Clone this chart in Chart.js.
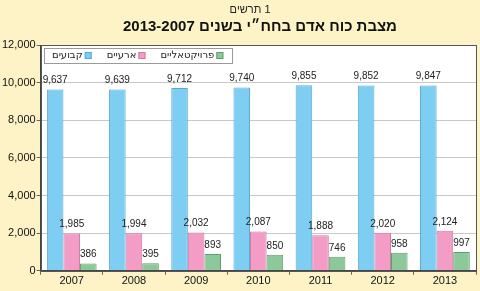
<!DOCTYPE html>
<html lang="he">
<head>
<meta charset="utf-8">
<script src="https://cdn.jsdelivr.net/npm/chart.js@4.4.1/dist/chart.umd.min.js"></script>
<style>
  html, body { margin: 0; padding: 0; background: #fdf3c7; }
  #wrap { width: 480px; height: 291px; }
</style>
</head>
<body>
<div id="wrap"><canvas id="chart"></canvas></div>
<script>
// נתונים
const years = ['2007', '2008', '2009', '2010', '2011', '2012', '2013'];
const kvuim = [9637, 9639, 9712, 9740, 9855, 9852, 9847];
const arayim = [1985, 1994, 2032, 2087, 1888, 2020, 2124];
const proyektaliyim = [386, 395, 893, 850, 746, 958, 997];
const seriesNames = ['קבועים', 'ארעיים', 'פרויקטאליים'];
const titleText = 'תרשים 1';
const subtitleText = 'מצבת כוח אדם בחח״י בשנים 2013-2007';
const yMax = 12000;
const yStep = 2000;

const colors = ['#7ecdf2', '#f39cc6', '#8dc89b'];
const borders = ['#5aa9d3', '#cf79a3', '#5f9f6e'];

// Hebrew is drawn letter by letter so the canvas bidi does not matter.
// rtl = true: words go right to left (last word ends up leftmost).
function visualPieces(text, rtl) {
    let words = text.split(' ');
    if (rtl) words = words.reverse();
    const pieces = [];
    words.forEach((w, i) => {
        if (i > 0) pieces.push(' ');
        if (/[\u0590-\u05FF]/.test(w)) {
            [...w].reverse().forEach(c => pieces.push(c));
        } else {
            pieces.push(w);
        }
    });
    return pieces;
}

function textWidth(ctx, pieces) {
    return pieces.reduce((s, p) => s + ctx.measureText(p).width, 0);
}

function drawPieces(ctx, pieces, x, y) {
    ctx.textAlign = 'left';
    pieces.forEach(p => {
        ctx.fillText(p, x, y);
        x += ctx.measureText(p).width;
    });
}

const bgPlugin = {
    id: 'bg',
    beforeDraw(chart) {
        const { ctx, chartArea: a } = chart;
        ctx.save();
        ctx.fillStyle = '#fdf3c7';
        ctx.fillRect(0, 0, chart.width, chart.height);
        ctx.fillStyle = '#ffffff';
        ctx.fillRect(a.left, a.top, a.right - a.left, a.bottom - a.top);
        ctx.restore();
    },
    afterDraw(chart) {
        const { ctx, chartArea: a } = chart;
        ctx.save();
        ctx.direction = 'ltr';
        ctx.textBaseline = 'middle';

        // כותרות
        ctx.fillStyle = '#222';
        ctx.font = '11px "Liberation Sans"';
        let p = visualPieces(titleText, false);
        drawPieces(ctx, p, 250 - textWidth(ctx, p) / 2, 10);
        ctx.fillStyle = '#111';
        ctx.font = 'bold 15px "Liberation Sans"';
        p = visualPieces(subtitleText, true);
        drawPieces(ctx, p, 260 - textWidth(ctx, p) / 2, 27);

        // מסגרת לאזור הגרף
        ctx.strokeStyle = '#555555';
        ctx.lineWidth = 1;
        ctx.strokeRect(Math.round(a.left) + 0.5, Math.round(a.top) + 0.5,
            Math.round(a.right - a.left), Math.round(a.bottom - a.top));

        // מקרא בתוך אזור הגרף
        ctx.font = '10px "DejaVu Sans"';
        const left = Math.round(a.left) + 3;
        const top = Math.round(a.top) + 3;
        const cy = top + 7.5;
        let x = left + 8;
        chart.data.datasets.forEach((ds, i) => {
            const pieces = visualPieces(ds.label, true);
            const w = textWidth(ctx, pieces);
            ctx.fillStyle = '#222';
            drawPieces(ctx, pieces, x, cy);
            x += w + 2;
            ctx.fillStyle = ds.backgroundColor;
            ctx.fillRect(x, cy - 3.5, 7, 7);
            ctx.strokeStyle = ds.borderColor;
            ctx.strokeRect(x + 0.5, cy - 3, 6, 6);
            x += 7 + (i < chart.data.datasets.length - 1 ? 15 : 9);
        });
        ctx.strokeStyle = '#9a9a9a';
        ctx.strokeRect(left + 0.5, top + 0.5, Math.round(x - left), 15);
        ctx.restore();
    },
    afterDatasetsDraw(chart) {
        // תוויות ערכים מעל העמודות
        const { ctx } = chart;
        ctx.save();
        ctx.font = '10px "Liberation Sans"';
        ctx.fillStyle = '#222222';
        ctx.textAlign = 'center';
        ctx.textBaseline = 'bottom';
        chart.data.datasets.forEach((ds, i) => {
            chart.getDatasetMeta(i).data.forEach((bar, j) => {
                ctx.fillText(ds.data[j].toLocaleString('en-US'), bar.x, bar.y - 4);
            });
        });
        ctx.restore();
    }
};

const ctx = document.getElementById('chart').getContext('2d');
new Chart(ctx, {
    type: 'bar',
    data: {
        labels: years,
        datasets: [kvuim, arayim, proyektaliyim].map((d, i) => ({
            label: seriesNames[i],
            data: d,
            backgroundColor: colors[i],
            borderColor: borders[i],
            borderWidth: 1,
            categoryPercentage: 0.8,
            barPercentage: 1.0
        }))
    },
    options: {
        responsive: true,
        maintainAspectRatio: false,
        animation: false,
        layout: { padding: { left: 1, right: 4, bottom: 3, top: 45 } },
        plugins: {
            title: { display: false },
            legend: { display: false },
            tooltip: { enabled: false }
        },
        scales: {
            x: {
                grid: { offset: true, drawOnChartArea: false, tickLength: 4, color: '#666' },
                border: { color: '#444' },
                ticks: { color: '#111', padding: 0, font: { family: '"Liberation Sans"', size: 11 } }
            },
            y: {
                min: 0,
                max: yMax,
                grid: { color: '#c8c8c8', tickLength: 4, tickColor: '#666' },
                border: { color: '#444' },
                ticks: {
                    stepSize: yStep,
                    color: '#111',
                    padding: 1,
                    font: { family: '"Liberation Sans"', size: 11 },
                    callback: v => v.toLocaleString('en-US')
                }
            }
        }
    },
    plugins: [bgPlugin]
});
</script>
</body>
</html>
